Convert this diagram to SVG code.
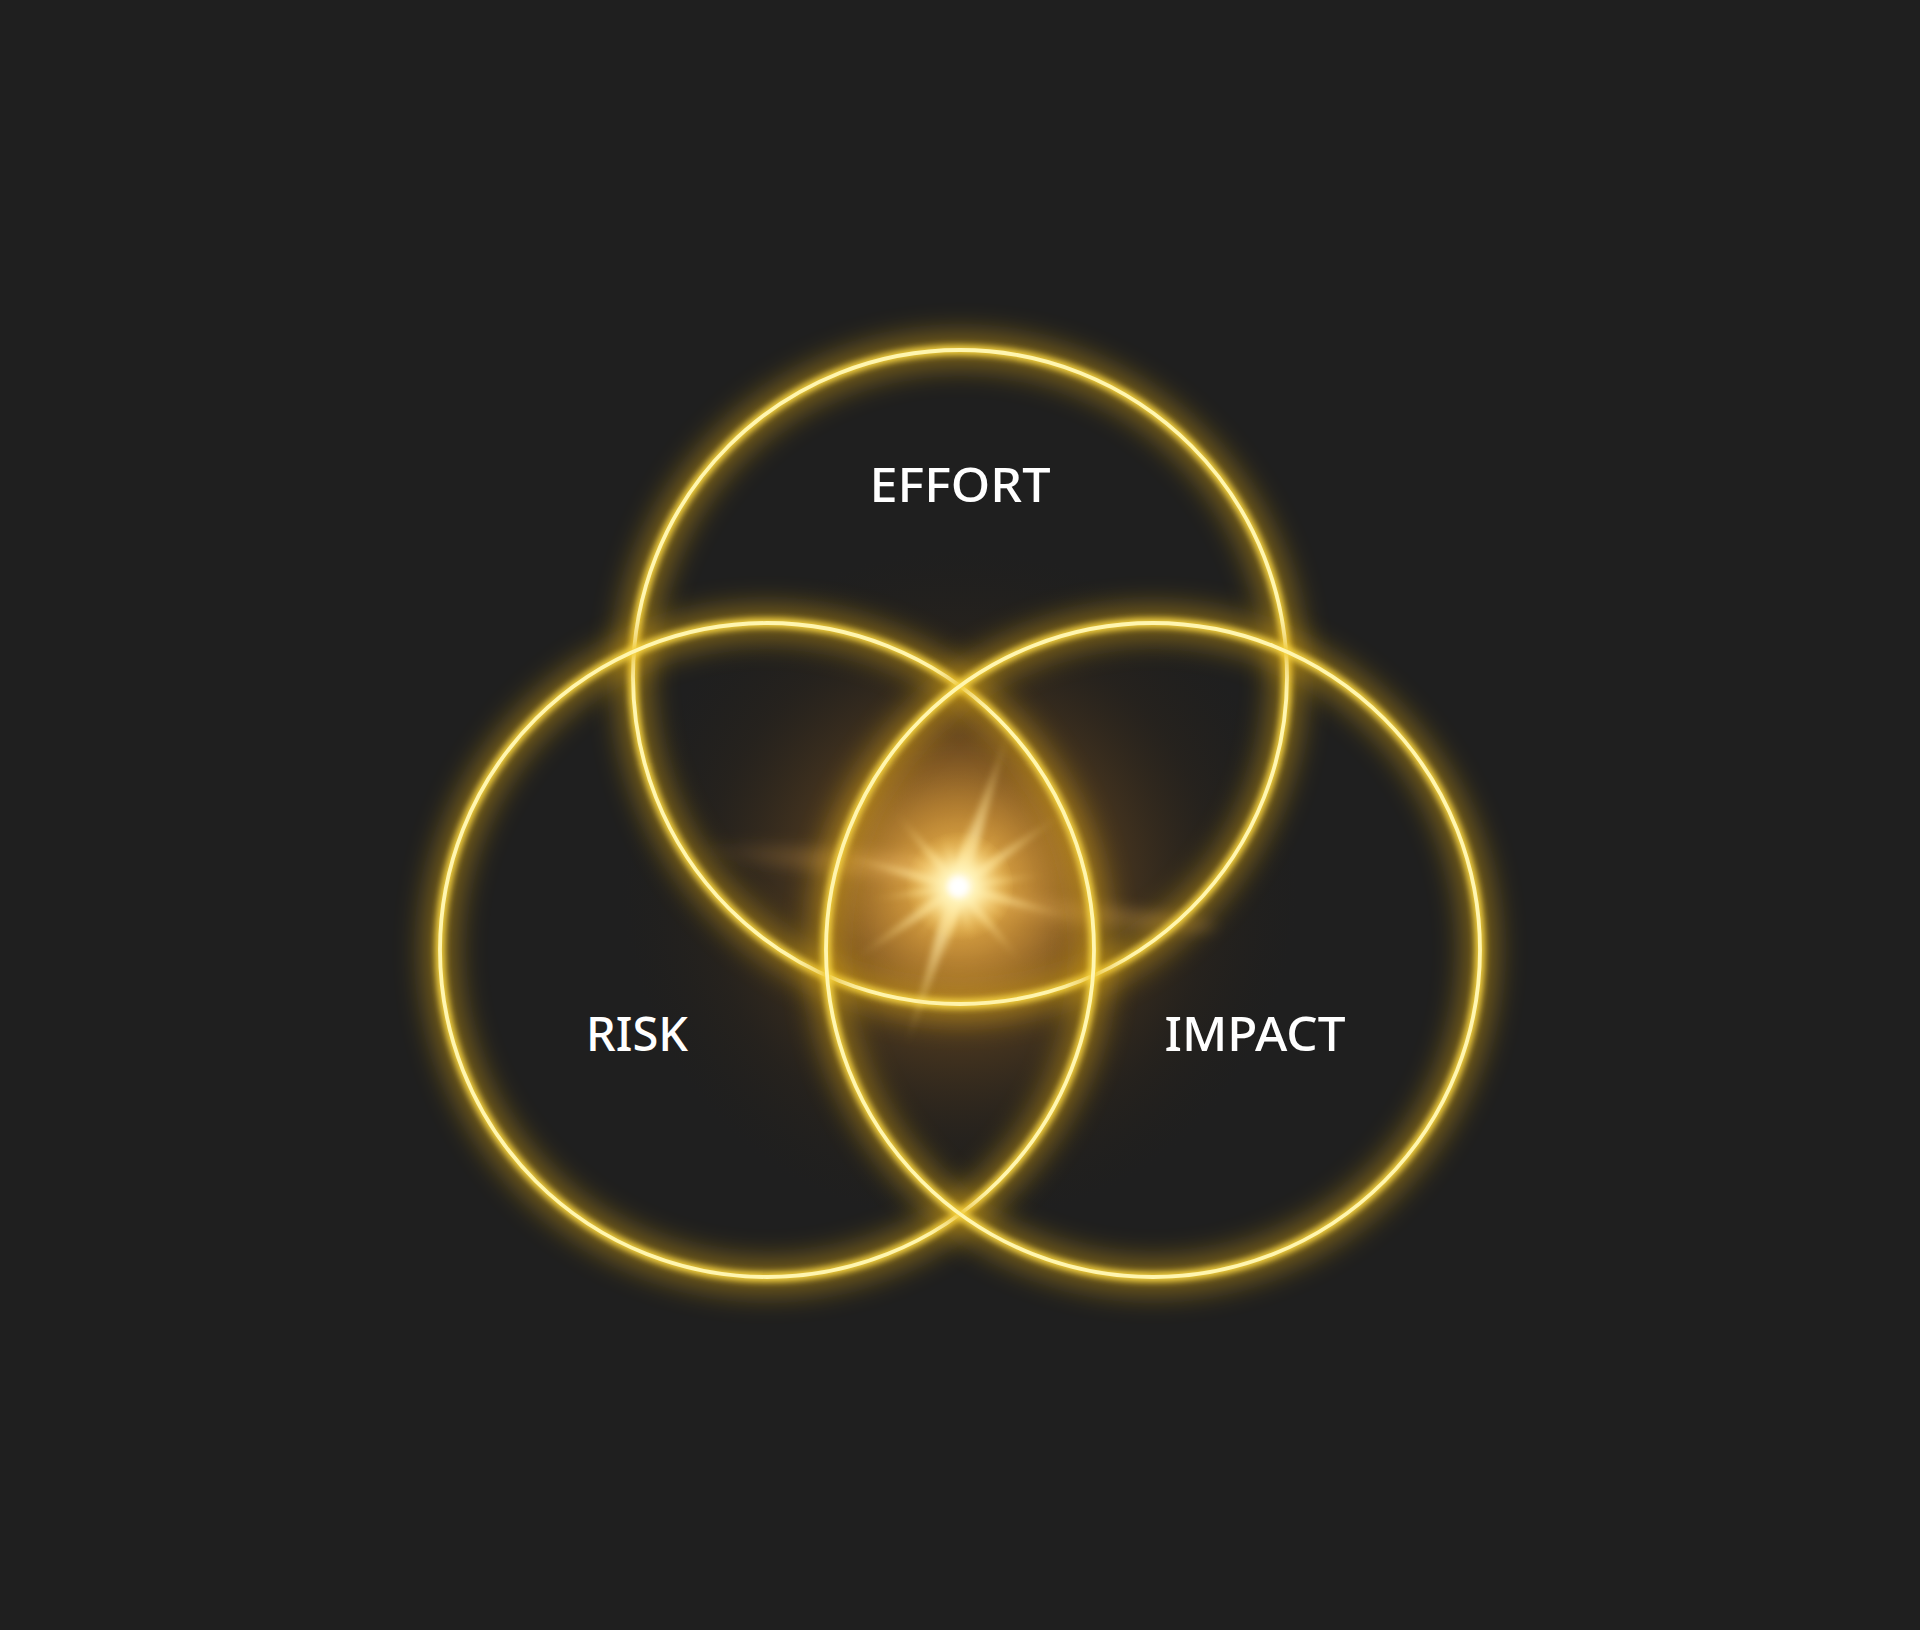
<svg xmlns="http://www.w3.org/2000/svg" width="1920" height="1630" viewBox="0 0 1920 1630">
  <defs>
    <style>
      .glow { fill: none; stroke: #d9a514; stroke-width: 34; opacity: 0.5; filter: url(#blurBig); }
      .mid { fill: none; stroke: #f5d23c; stroke-width: 10; filter: url(#blurSmall); }
      .core { fill: none; stroke: #fff6b0; stroke-width: 3.8; }
      .label { fill: #ffffff; font-family: "Noto Sans", "Open Sans", "Liberation Sans", sans-serif; font-weight: 500; font-size: 48px; text-anchor: middle; }
      .ray { fill: url(#rayGrad); filter: url(#blurRay); }
    </style>
    <filter id="blurBig" x="-20%" y="-20%" width="140%" height="140%">
      <feGaussianBlur stdDeviation="14"/>
    </filter>
    <filter id="blurSmall" x="-10%" y="-10%" width="120%" height="120%">
      <feGaussianBlur stdDeviation="3"/>
    </filter>
    <filter id="blurRay" x="-50%" y="-50%" width="200%" height="200%">
      <feGaussianBlur stdDeviation="3"/>
    </filter>
    <filter id="blurStreak" x="-50%" y="-200%" width="200%" height="500%">
      <feGaussianBlur stdDeviation="7"/>
    </filter>
    <filter id="blurHuge" x="-50%" y="-50%" width="200%" height="200%">
      <feGaussianBlur stdDeviation="30"/>
    </filter>
    <clipPath id="lensClip">
      <circle cx="960" cy="677" r="327"/>
    </clipPath>
    <clipPath id="lensClip2">
      <circle cx="767" cy="950" r="327"/>
    </clipPath>
    <clipPath id="lensClip3">
      <circle cx="1153" cy="950" r="327"/>
    </clipPath>
    <radialGradient id="centerGlow" cx="960" cy="886" r="340" gradientUnits="userSpaceOnUse">
      <stop offset="0" stop-color="#fff3c0" stop-opacity="1"/>
      <stop offset="0.07" stop-color="#f7c85a" stop-opacity="0.9"/>
      <stop offset="0.22" stop-color="#c98a2c" stop-opacity="0.65"/>
      <stop offset="0.45" stop-color="#8a5a1e" stop-opacity="0.38"/>
      <stop offset="0.75" stop-color="#4a3214" stop-opacity="0.15"/>
      <stop offset="1" stop-color="#2a2010" stop-opacity="0"/>
    </radialGradient>
    <radialGradient id="lensGlow" cx="960" cy="886" r="200" gradientUnits="userSpaceOnUse">
      <stop offset="0" stop-color="#d8993a" stop-opacity="0.7"/>
      <stop offset="0.6" stop-color="#a86e26" stop-opacity="0.45"/>
      <stop offset="1" stop-color="#7a5020" stop-opacity="0.3"/>
    </radialGradient>
    <radialGradient id="coreGlow" cx="960" cy="886" r="55" gradientUnits="userSpaceOnUse">
      <stop offset="0" stop-color="#ffffff" stop-opacity="1"/>
      <stop offset="0.3" stop-color="#fff3b8" stop-opacity="0.9"/>
      <stop offset="1" stop-color="#ffd060" stop-opacity="0"/>
    </radialGradient>
    <linearGradient id="rayGrad" x1="0" y1="0" x2="1" y2="0">
      <stop offset="0" stop-color="#ffd56a" stop-opacity="0"/>
      <stop offset="0.5" stop-color="#fff6c8" stop-opacity="0.9"/>
      <stop offset="1" stop-color="#ffd56a" stop-opacity="0"/>
    </linearGradient>
    <linearGradient id="streakGrad" x1="0" y1="0" x2="1" y2="0">
      <stop offset="0" stop-color="#e0a040" stop-opacity="0"/>
      <stop offset="0.6" stop-color="#eab060" stop-opacity="0.35"/>
      <stop offset="1" stop-color="#ffe0a0" stop-opacity="0.6"/>
    </linearGradient>
  </defs>

  <rect x="0" y="0" width="1920" height="1630" fill="#1f1f1f"/>

  <!-- warm glow in the centre -->
  <g id="center-glow">
    <circle cx="960" cy="886" r="340" fill="url(#centerGlow)"/>
    <g clip-path="url(#lensClip)">
      <g clip-path="url(#lensClip2)">
        <g clip-path="url(#lensClip3)">
          <rect x="600" y="600" width="720" height="700" fill="url(#lensGlow)"/>
        </g>
      </g>
    </g>
    <!-- horizontal flare streaks -->
    <ellipse cx="840" cy="872" rx="150" ry="12" fill="url(#streakGrad)" filter="url(#blurStreak)" transform="rotate(5 960 886)"/>
    <ellipse cx="1080" cy="900" rx="140" ry="10" fill="#e8b060" opacity="0.25" filter="url(#blurStreak)" transform="rotate(6 960 886)"/>
  </g>

  <!-- circles -->
  <g id="node-effort">
    <circle class="glow" cx="960" cy="677" r="327"/>
    <circle class="mid" cx="960" cy="677" r="327"/>
    <circle class="core" cx="960" cy="677" r="327"/>
    <text class="label" x="960" y="502" textLength="181" lengthAdjust="spacingAndGlyphs">EFFORT</text>
  </g>
  <g id="node-risk">
    <circle class="glow" cx="767" cy="950" r="327"/>
    <circle class="mid" cx="767" cy="950" r="327"/>
    <circle class="core" cx="767" cy="950" r="327"/>
    <text class="label" x="637" y="1051" textLength="102" lengthAdjust="spacingAndGlyphs">RISK</text>
  </g>
  <g id="node-impact">
    <circle class="glow" cx="1153" cy="950" r="327"/>
    <circle class="mid" cx="1153" cy="950" r="327"/>
    <circle class="core" cx="1153" cy="950" r="327"/>
    <text class="label" x="1255" y="1051" textLength="181" lengthAdjust="spacingAndGlyphs">IMPACT</text>
  </g>

  <!-- central star burst -->
  <g id="star">
    <circle cx="958" cy="887" r="90" fill="#f0b850" opacity="0.35" filter="url(#blurHuge)"/>
    <g transform="translate(958,887)">
      <polygon class="ray" points="-170,0 0,-9 170,0 0,9" transform="rotate(-72)"/>
      <polygon class="ray" points="-130,0 0,-7 130,0 0,7" transform="rotate(-35)"/>
      <polygon class="ray" points="-120,0 0,-7 120,0 0,7" transform="rotate(15)"/>
      <polygon class="ray" points="-100,0 0,-6 100,0 0,6" transform="rotate(50)"/>
      <polygon class="ray" points="-90,0 0,-5 90,0 0,5" transform="rotate(-8)"/>
      <polygon class="ray" points="-80,0 0,-5 80,0 0,5" transform="rotate(100)"/>
      <polygon class="ray" points="-70,0 0,-4 70,0 0,4" transform="rotate(-52)"/>
      <polygon class="ray" points="-65,0 0,-4 65,0 0,4" transform="rotate(32)"/>
      <polygon class="ray" points="-60,0 0,-4 60,0 0,4" transform="rotate(75)"/>
    </g>
    <circle cx="958" cy="887" r="55" fill="url(#coreGlow)"/>
    <circle cx="958" cy="887" r="10" fill="#ffffff" filter="url(#blurRay)"/>
  </g>

  <g id="connectors"/>
</svg>
